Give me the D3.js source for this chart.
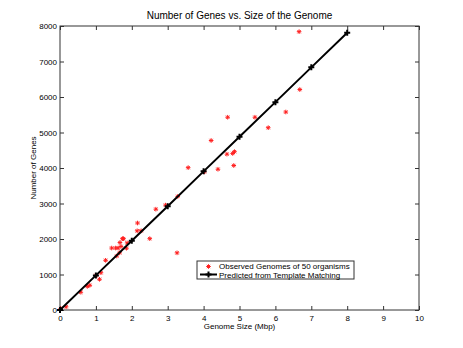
<!DOCTYPE html>
<html>
<head>
<meta charset="utf-8">
<script src="https://cdn.jsdelivr.net/npm/d3@7"></script>
<style>
body { margin: 0; background: #fff; }
text { font-family: "Liberation Sans", Arial, sans-serif; fill: #000; }
</style>
</head>
<body>
<script>
// observed genomes (Mbp, number of genes)
var observedSize = [0.02, 0.17, 0.58, 0.76, 0.83, 1.00, 1.10, 1.14, 1.27, 1.44, 1.55, 1.58, 1.62, 1.66, 1.67,
	1.70, 1.74, 1.77, 1.85, 1.87, 2.15, 2.16, 2.26, 2.50, 2.67, 2.94, 3.26, 3.28, 3.57, 4.02,
	4.21, 4.40, 4.65, 4.81, 4.84, 4.86, 4.67, 5.43, 5.80, 6.29, 6.68, 6.66];
var observedGenes = [40, 90, 500, 665, 695, 975, 865, 1050, 1400, 1745, 1745, 1520, 1745, 1610, 1900,
	1790, 2010, 2010, 1740, 1890, 2230, 2450, 2230, 2010, 2840, 2955, 1610, 3200, 4010, 3890,
	4775, 3965, 4390, 4410, 4070, 4460, 5430, 5430, 5135, 5577, 6210, 7840];
// template matching prediction
var predictedSize = [0, 1, 2, 3, 4, 5, 6, 7, 8];
var predictedGenes = [0, 975, 1950, 2925, 3905, 4880, 5855, 6835, 7810];
var xTicks = [0, 1, 2, 3, 4, 5, 6, 7, 8, 9, 10];
var yTicks = [0, 1000, 2000, 3000, 4000, 5000, 6000, 7000, 8000];
var legendLabels = ["Observed Genomes of 50 organisms", "Predicted from Template Matching"];

var svgWidth = 463;
var svgHeight = 348;
var margin = {top: 26, right: 44, bottom: 38, left: 60};
var width = svgWidth - margin.left - margin.right;
var height = svgHeight - margin.top - margin.bottom;

var svg = d3.select("body").append("svg")
	.attr("width", svgWidth)
	.attr("height", svgHeight);

var xScale = d3.scaleLinear().domain([0, 10]).range([0, width]);
var yScale = d3.scaleLinear().domain([0, 8000]).range([height, 0]);

var g = svg.append("g")
	.attr("transform", "translate(" + margin.left + "," + margin.top + ")");

// asterisk and plus marker paths
function starPath(r){
	var d = r * 0.72;
	return "M" + (-r) + ",0H" + r + "M0," + (-r) + "V" + r +
		"M" + (-d) + "," + (-d) + "L" + d + "," + d + "M" + (-d) + "," + d + "L" + d + "," + (-d);
}
function plusPath(r){
	return "M" + (-r) + ",0H" + r + "M0," + (-r) + "V" + r;
}

// axes with inward ticks on all four sides
var tickLen = 4;
g.append("g")
	.attr("transform", "translate(0," + height + ")")
	.call(d3.axisBottom(xScale).tickValues(xTicks).tickSizeInner(-tickLen).tickSizeOuter(0).tickPadding(5).tickFormat(d3.format("d")));
g.append("g")
	.call(d3.axisTop(xScale).tickValues(xTicks).tickSizeInner(-tickLen).tickSizeOuter(0).tickFormat(""));
g.append("g")
	.call(d3.axisLeft(yScale).tickValues(yTicks).tickSizeInner(-tickLen).tickSizeOuter(0).tickPadding(3).tickFormat(d3.format("d")));
g.append("g")
	.attr("transform", "translate(" + width + ",0)")
	.call(d3.axisRight(yScale).tickValues(yTicks).tickSizeInner(-tickLen).tickSizeOuter(0).tickFormat(""));
g.selectAll(".domain").remove();
g.selectAll(".tick line").attr("stroke", "#333");
g.selectAll(".tick text").style("font-size", "8px").style("font-family", "Liberation Sans, Arial, sans-serif");

g.append("rect")
	.attr("width", width)
	.attr("height", height)
	.attr("fill", "none")
	.attr("stroke", "#333")
	.attr("stroke-width", 1);

// observed points
var observed = observedSize.map(function(d, i){ return {x: d, y: observedGenes[i]}; });
g.selectAll(".obs")
	.data(observed)
	.enter().append("path")
		.attr("class", "obs")
		.attr("transform", function(d){ return "translate(" + xScale(d.x) + "," + yScale(d.y) + ")"; })
		.attr("d", starPath(2.3))
		.attr("stroke", "#ff2020")
		.attr("stroke-width", 1)
		.attr("fill", "none");

// predicted line
var predicted = predictedSize.map(function(d, i){ return {x: d, y: predictedGenes[i]}; });
var line = d3.line()
	.x(function(d){ return xScale(d.x); })
	.y(function(d){ return yScale(d.y); });
g.append("path")
	.datum(predicted)
	.attr("d", line)
	.attr("fill", "none")
	.attr("stroke", "#000")
	.attr("stroke-width", 2);
g.selectAll(".pred")
	.data(predicted)
	.enter().append("path")
		.attr("class", "pred")
		.attr("transform", function(d){ return "translate(" + xScale(d.x) + "," + yScale(d.y) + ")"; })
		.attr("d", plusPath(3))
		.attr("stroke", "#000")
		.attr("stroke-width", 2);

// titles
svg.append("text")
	.attr("x", margin.left + width / 2)
	.attr("y", 19)
	.attr("text-anchor", "middle")
	.style("font-size", "10px")
	.text("Number of Genes vs. Size of the Genome");
svg.append("text")
	.attr("x", margin.left + width / 2)
	.attr("y", 329)
	.attr("text-anchor", "middle")
	.style("font-size", "8px")
	.text("Genome Size (Mbp)");
svg.append("text")
	.attr("transform", "translate(36," + (margin.top + height / 2) + ") rotate(-90)")
	.attr("text-anchor", "middle")
	.style("font-size", "8px")
	.text("Number of Genes");

// legend
var legend = svg.append("g").attr("transform", "translate(197,261)");
legend.append("rect")
	.attr("width", 157)
	.attr("height", 18)
	.attr("fill", "#fff")
	.attr("stroke", "#333")
	.attr("stroke-width", 1);
legend.append("path")
	.attr("transform", "translate(11.5,5.5)")
	.attr("d", starPath(2.3))
	.attr("stroke", "#ff2020")
	.attr("stroke-width", 1)
	.attr("fill", "none");
legend.append("line")
	.attr("x1", 3).attr("x2", 20)
	.attr("y1", 13.5).attr("y2", 13.5)
	.attr("stroke", "#000")
	.attr("stroke-width", 2);
legend.append("path")
	.attr("transform", "translate(11.5,13.5)")
	.attr("d", plusPath(3))
	.attr("stroke", "#000")
	.attr("stroke-width", 2);
legend.selectAll(".lab")
	.data(legendLabels)
	.enter().append("text")
		.attr("class", "lab")
		.attr("x", 22)
		.attr("y", function(d, i){ return 8 + i * 8.5; })
		.style("font-size", "8px")
		.text(function(d){ return d; });
</script>
</body>
</html>
